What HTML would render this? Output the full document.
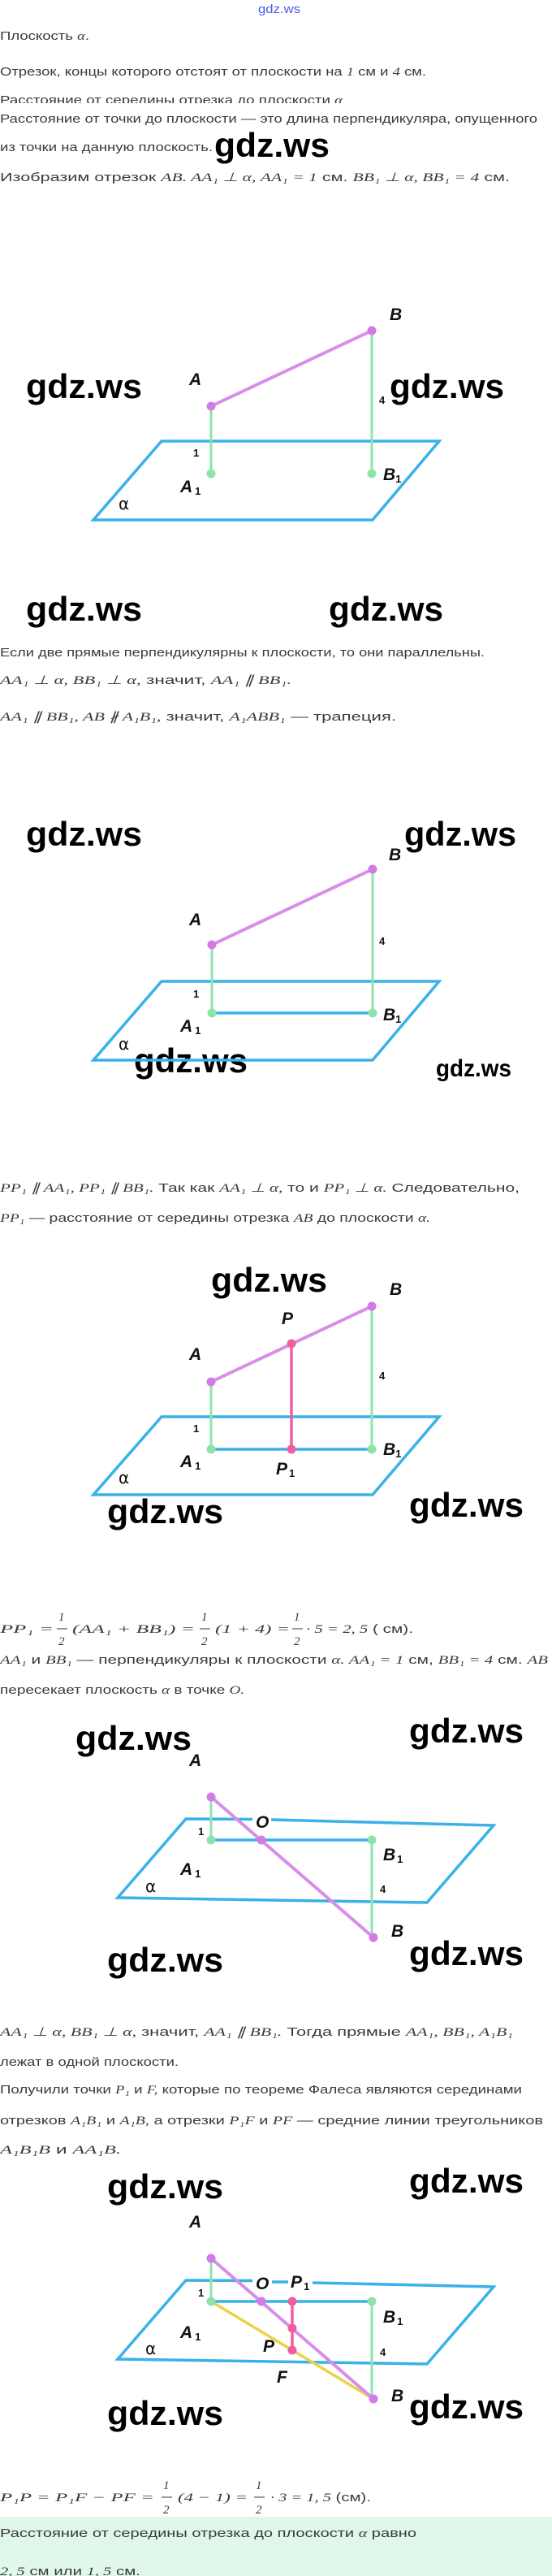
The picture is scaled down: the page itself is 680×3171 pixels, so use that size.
<!DOCTYPE html>
<html><head><meta charset="utf-8"><style>
html,body{margin:0;padding:0;background:#fff;}
svg{display:block;}
.t{font-family:"Liberation Sans",sans-serif;font-size:15px;fill:#3a3a3a;}
.m{font-family:"Liberation Serif",serif;font-style:italic;}
.w{font-family:"Liberation Sans",sans-serif;font-weight:bold;font-size:42px;fill:#000;}
.L{font-family:"Liberation Sans",sans-serif;font-weight:bold;font-style:italic;font-size:21px;fill:#111;}
.s{font-family:"Liberation Sans",sans-serif;font-weight:bold;font-size:13px;fill:#111;}
.al{font-family:"DejaVu Sans",sans-serif;font-size:20px;fill:#111;}
.pl{stroke:#38b2e8;stroke-width:3.5;fill:none;stroke-linejoin:miter;}
.g{stroke:#8fe3ae;stroke-width:3;}
.v{stroke:#d98de8;stroke-width:4;}
.pk{stroke:#f0609f;stroke-width:3.5;}
.y{stroke:#ecd24a;stroke-width:3.5;}
</style></head><body>
<svg width="680" height="3171" viewBox="0 0 680 3171" xmlns="http://www.w3.org/2000/svg">
<rect x="0" y="3098" width="680" height="73" fill="#e0f8ea"/>
<text x="318" y="16" font-family="Liberation Sans,sans-serif" font-size="15" fill="#4a5ae0" textLength="52" lengthAdjust="spacingAndGlyphs">gdz.ws</text>

<g class="t">
<text x="0" y="49" textLength="110" lengthAdjust="spacingAndGlyphs">Плоскость <tspan class="m">α</tspan>.</text>
<text x="0" y="93" textLength="525" lengthAdjust="spacingAndGlyphs">Отрезок, концы которого отстоят от плоскости на <tspan class="m">1</tspan> см и <tspan class="m">4</tspan> см.</text>
<svg x="0" y="112" width="680" height="15"><text x="0" y="16" class="t" textLength="422" lengthAdjust="spacingAndGlyphs">Расстояние от середины отрезка до плоскости <tspan class="m">α</tspan></text></svg>
<text x="0" y="151" textLength="662" lengthAdjust="spacingAndGlyphs">Расстояние от точки до плоскости — это длина перпендикуляра, опущенного</text>
<text x="0" y="186" textLength="262" lengthAdjust="spacingAndGlyphs">из точки на данную плоскость.</text>
<text x="0" y="223" textLength="628" lengthAdjust="spacingAndGlyphs">Изобразим отрезок <tspan class="m">AB. AA₁ ⊥ α, AA₁ = 1</tspan> см. <tspan class="m">BB₁ ⊥ α, BB₁ = 4</tspan> см.</text>

<text x="0" y="808" textLength="597" lengthAdjust="spacingAndGlyphs">Если две прямые перпендикулярны к плоскости, то они параллельны.</text>
<text x="0" y="842" textLength="359" lengthAdjust="spacingAndGlyphs"><tspan class="m">AA₁ ⊥ α, BB₁ ⊥ α,</tspan> значит, <tspan class="m">AA₁ ∥ BB₁.</tspan></text>
<text x="0" y="887" textLength="488" lengthAdjust="spacingAndGlyphs"><tspan class="m">AA₁ ∥ BB₁, AB ∦ A₁B₁,</tspan> значит, <tspan class="m">A₁ABB₁</tspan> — трапеция.</text>

<text x="0" y="1467" textLength="640" lengthAdjust="spacingAndGlyphs"><tspan class="m">PP₁ ∥ AA₁, PP₁ ∥ BB₁.</tspan> Так как <tspan class="m">AA₁ ⊥ α,</tspan> то и <tspan class="m">PP₁ ⊥ α.</tspan> Следовательно,</text>
<text x="0" y="1504" textLength="530" lengthAdjust="spacingAndGlyphs"><tspan class="m">PP₁</tspan> — расстояние от середины отрезка <tspan class="m">AB</tspan> до плоскости <tspan class="m">α.</tspan></text>

<text x="0" y="2010" class="t m" textLength="66" lengthAdjust="spacingAndGlyphs">PP₁ =</text>
<text x="72" y="1995" class="t m">1</text><line x1="70" y1="2005" x2="83" y2="2005" stroke="#3a3a3a" stroke-width="1"/><text x="72" y="2025" class="t m">2</text>
<text x="89" y="2010" class="t m" textLength="151" lengthAdjust="spacingAndGlyphs">(AA₁ + BB₁) =</text>
<text x="248" y="1995" class="t m">1</text><line x1="246" y1="2005" x2="259" y2="2005" stroke="#3a3a3a" stroke-width="1"/><text x="248" y="2025" class="t m">2</text>
<text x="265" y="2010" class="t m" textLength="92" lengthAdjust="spacingAndGlyphs">(1 + 4) =</text>
<text x="362" y="1995" class="t m">1</text><line x1="360" y1="2005" x2="373" y2="2005" stroke="#3a3a3a" stroke-width="1"/><text x="362" y="2025" class="t m">2</text>
<text x="377" y="2010" textLength="132" lengthAdjust="spacingAndGlyphs"><tspan class="m">· 5 = 2, 5</tspan> ( см).</text>
<text x="0" y="2048" textLength="675" lengthAdjust="spacingAndGlyphs"><tspan class="m">AA₁</tspan> и <tspan class="m">BB₁</tspan> — перпендикуляры к плоскости <tspan class="m">α. AA₁ = 1</tspan> см, <tspan class="m">BB₁ = 4</tspan> см. <tspan class="m">AB</tspan></text>
<text x="0" y="2085" textLength="301" lengthAdjust="spacingAndGlyphs">пересекает плоскость <tspan class="m">α</tspan> в точке <tspan class="m">O.</tspan></text>

<text x="0" y="2506" textLength="632" lengthAdjust="spacingAndGlyphs"><tspan class="m">AA₁ ⊥ α, BB₁ ⊥ α,</tspan> значит, <tspan class="m">AA₁ ∥ BB₁.</tspan> Тогда прямые <tspan class="m">AA₁, BB₁, A₁B₁</tspan></text>
<text x="0" y="2543" textLength="220" lengthAdjust="spacingAndGlyphs">лежат в одной плоскости.</text>
<text x="0" y="2577" textLength="643" lengthAdjust="spacingAndGlyphs">Получили точки <tspan class="m">P₁</tspan> и <tspan class="m">F,</tspan> которые по теореме Фалеса являются серединами</text>
<text x="0" y="2615" textLength="669" lengthAdjust="spacingAndGlyphs">отрезков <tspan class="m">A₁B₁</tspan> и <tspan class="m">A₁B,</tspan> а отрезки <tspan class="m">P₁F</tspan> и <tspan class="m">PF</tspan> — средние линии треугольников</text>
<text x="0" y="2651" textLength="149" lengthAdjust="spacingAndGlyphs"><tspan class="m">A₁B₁B</tspan> и <tspan class="m">AA₁B.</tspan></text>

<text x="0" y="3079" class="t m" textLength="190" lengthAdjust="spacingAndGlyphs">P₁P = P₁F − PF =</text>
<text x="201" y="3064" class="t m">1</text><line x1="199" y1="3074" x2="212" y2="3074" stroke="#3a3a3a" stroke-width="1"/><text x="201" y="3094" class="t m">2</text>
<text x="219" y="3079" class="t m" textLength="86" lengthAdjust="spacingAndGlyphs">(4 − 1) =</text>
<text x="315" y="3064" class="t m">1</text><line x1="313" y1="3074" x2="326" y2="3074" stroke="#3a3a3a" stroke-width="1"/><text x="315" y="3094" class="t m">2</text>
<text x="333" y="3079" textLength="124" lengthAdjust="spacingAndGlyphs"><tspan class="m">· 3 = 1, 5</tspan> (см).</text>
<text x="0" y="3123" textLength="513" lengthAdjust="spacingAndGlyphs">Расстояние от середины отрезка до плоскости <tspan class="m">α</tspan> равно</text>
<text x="0" y="3170" textLength="173" lengthAdjust="spacingAndGlyphs"><tspan class="m">2, 5</tspan> см или <tspan class="m">1, 5</tspan> см.</text>
</g>

<!-- watermarks -->
<g class="w">
<text x="264" y="193" textLength="142" lengthAdjust="spacingAndGlyphs">gdz.ws</text>
<text x="32" y="490" textLength="143" lengthAdjust="spacingAndGlyphs">gdz.ws</text>
<text x="480" y="490" textLength="141" lengthAdjust="spacingAndGlyphs">gdz.ws</text>
<text x="32" y="764" textLength="143" lengthAdjust="spacingAndGlyphs">gdz.ws</text>
<text x="405" y="764" textLength="141" lengthAdjust="spacingAndGlyphs">gdz.ws</text>
<text x="32" y="1041" textLength="143" lengthAdjust="spacingAndGlyphs">gdz.ws</text>
<text x="498" y="1041" textLength="138" lengthAdjust="spacingAndGlyphs">gdz.ws</text>
<text x="165" y="1320" textLength="140" lengthAdjust="spacingAndGlyphs">gdz.ws</text>
<text x="537" y="1325" font-size="30" textLength="93" lengthAdjust="spacingAndGlyphs">gdz.ws</text>
<text x="260" y="1590" textLength="143" lengthAdjust="spacingAndGlyphs">gdz.ws</text>
<text x="132" y="1875" textLength="143" lengthAdjust="spacingAndGlyphs">gdz.ws</text>
<text x="504" y="1867" textLength="141" lengthAdjust="spacingAndGlyphs">gdz.ws</text>
<text x="93" y="2154" textLength="143" lengthAdjust="spacingAndGlyphs">gdz.ws</text>
<text x="504" y="2145" textLength="141" lengthAdjust="spacingAndGlyphs">gdz.ws</text>
<text x="132" y="2427" textLength="143" lengthAdjust="spacingAndGlyphs">gdz.ws</text>
<text x="504" y="2419" textLength="141" lengthAdjust="spacingAndGlyphs">gdz.ws</text>
<text x="132" y="2706" textLength="143" lengthAdjust="spacingAndGlyphs">gdz.ws</text>
<text x="504" y="2699" textLength="141" lengthAdjust="spacingAndGlyphs">gdz.ws</text>
<text x="132" y="2985" textLength="143" lengthAdjust="spacingAndGlyphs">gdz.ws</text>
<text x="504" y="2977" textLength="141" lengthAdjust="spacingAndGlyphs">gdz.ws</text>
</g>

<!-- Figure 1 -->
<polygon class="pl" points="199,543 541,543 459,640 115,640"/>
<line class="g" x1="260" y1="500" x2="260" y2="583"/>
<line class="g" x1="458" y1="407" x2="458" y2="583"/>
<line class="v" x1="260" y1="500" x2="458" y2="407"/>
<circle cx="260" cy="500" r="5.5" fill="#d47ae6"/><circle cx="458" cy="407" r="5.5" fill="#d47ae6"/>
<circle cx="260" cy="583" r="5.5" fill="#8ee3aa"/><circle cx="458" cy="583" r="5.5" fill="#8ee3aa"/>
<text class="L" x="233" y="474">A</text><text class="L" x="480" y="394">B</text>
<text class="s" x="238" y="562">1</text><text class="s" x="467" y="497">4</text>
<text class="L" x="222" y="606">A<tspan font-size="13" font-style="normal" dx="3" dy="3">1</tspan></text>
<text class="L" x="472" y="591">B<tspan font-size="13" font-style="normal" dy="3">1</tspan></text>
<text class="al" x="146" y="627">α</text>

<!-- Figure 2 -->
<polygon class="pl" points="199,1208 541,1208 459,1305 115,1305"/>
<line class="pl" x1="260" y1="1247" x2="459" y2="1247"/>
<line class="g" x1="261" y1="1163" x2="261" y2="1247"/>
<line class="g" x1="459" y1="1070" x2="459" y2="1247"/>
<line class="v" x1="261" y1="1163" x2="459" y2="1070"/>
<circle cx="261" cy="1163" r="5.5" fill="#d47ae6"/><circle cx="459" cy="1070" r="5.5" fill="#d47ae6"/>
<circle cx="261" cy="1247" r="5.5" fill="#8ee3aa"/><circle cx="459" cy="1247" r="5.5" fill="#8ee3aa"/>
<text class="L" x="233" y="1139">A</text><text class="L" x="479" y="1059">B</text>
<text class="s" x="238" y="1228">1</text><text class="s" x="467" y="1163">4</text>
<text class="L" x="222" y="1270">A<tspan font-size="13" font-style="normal" dx="3" dy="3">1</tspan></text>
<text class="L" x="472" y="1256">B<tspan font-size="13" font-style="normal" dy="3">1</tspan></text>
<text class="al" x="146" y="1292">α</text>

<!-- Figure 3 -->
<polygon class="pl" points="199,1744 541,1744 459,1840 115,1840"/>
<line class="pl" x1="260" y1="1784" x2="458" y2="1784"/>
<line class="g" x1="260" y1="1701" x2="260" y2="1784"/>
<line class="g" x1="458" y1="1608" x2="458" y2="1784"/>
<line class="pk" x1="359" y1="1654" x2="359" y2="1784"/>
<line class="v" x1="260" y1="1701" x2="458" y2="1608"/>
<circle cx="260" cy="1701" r="5.5" fill="#d47ae6"/><circle cx="458" cy="1608" r="5.5" fill="#d47ae6"/>
<circle cx="359" cy="1654" r="5.5" fill="#f0609f"/><circle cx="359" cy="1784" r="5.5" fill="#f0609f"/>
<circle cx="260" cy="1784" r="5.5" fill="#8ee3aa"/><circle cx="458" cy="1784" r="5.5" fill="#8ee3aa"/>
<text class="L" x="233" y="1674">A</text><text class="L" x="480" y="1594">B</text>
<text class="L" x="347" y="1630">P</text>
<text class="s" x="238" y="1763">1</text><text class="s" x="467" y="1698">4</text>
<text class="L" x="222" y="1806">A<tspan font-size="13" font-style="normal" dx="3" dy="3">1</tspan></text>
<text class="L" x="472" y="1791">B<tspan font-size="13" font-style="normal" dy="3">1</tspan></text>
<text class="L" x="340" y="1815">P<tspan font-size="13" font-style="normal" dx="2" dy="3">1</tspan></text>
<text class="al" x="146" y="1826">α</text>

<!-- Figure 4 -->
<polyline class="pl" points="311,2239.5 229,2239 145,2336 526,2342 608,2247 334,2240"/>
<line class="pl" x1="260" y1="2265" x2="458" y2="2265"/>
<line class="g" x1="260" y1="2212" x2="260" y2="2265"/>
<line class="g" x1="458" y1="2265" x2="458" y2="2385"/>
<line class="v" x1="260" y1="2212" x2="460" y2="2385"/>
<circle cx="260" cy="2212" r="5.5" fill="#d47ae6"/><circle cx="460" cy="2385" r="5.5" fill="#d47ae6"/>
<circle cx="322" cy="2265" r="5.5" fill="#d47ae6"/>
<circle cx="260" cy="2265" r="5.5" fill="#8ee3aa"/><circle cx="458" cy="2265" r="5.5" fill="#8ee3aa"/>
<text class="L" x="233" y="2174">A</text><text class="L" x="482" y="2384">B</text>
<text class="L" x="315" y="2250">O</text>
<text class="s" x="244" y="2259">1</text><text class="s" x="468" y="2330">4</text>
<text class="L" x="222" y="2308">A<tspan font-size="13" font-style="normal" dx="3" dy="3">1</tspan></text>
<text class="L" x="472" y="2290">B<tspan font-size="13" font-style="normal" dx="2" dy="3">1</tspan></text>
<text class="al" x="179" y="2329">α</text>

<!-- Figure 5 -->
<polyline class="pl" points="311,2807.5 229,2807 145,2904 526,2910 608,2815 385,2810"/>
<line class="pl" x1="335" y1="2809" x2="355" y2="2809"/>
<line class="pl" x1="260" y1="2833" x2="458" y2="2833"/>
<line class="g" x1="260" y1="2780" x2="260" y2="2833"/>
<line class="g" x1="458" y1="2833" x2="458" y2="2953"/>
<line class="y" x1="260" y1="2833" x2="460" y2="2953"/>
<line class="pk" x1="360" y1="2833" x2="360" y2="2893"/>
<line class="v" x1="260" y1="2780" x2="460" y2="2953"/>
<circle cx="260" cy="2780" r="5.5" fill="#d47ae6"/><circle cx="460" cy="2953" r="5.5" fill="#d47ae6"/>
<circle cx="322" cy="2833" r="5.5" fill="#d47ae6"/>
<circle cx="360" cy="2833" r="5.5" fill="#f0609f"/><circle cx="360" cy="2866" r="5.5" fill="#f0609f"/><circle cx="360" cy="2893" r="5.5" fill="#f0609f"/>
<circle cx="260" cy="2833" r="5.5" fill="#8ee3aa"/><circle cx="458" cy="2833" r="5.5" fill="#8ee3aa"/>
<text class="L" x="233" y="2742">A</text><text class="L" x="482" y="2956">B</text>
<text class="L" x="315" y="2818">O</text>
<text class="L" x="358" y="2816">P<tspan font-size="13" font-style="normal" dx="2" dy="3">1</tspan></text>
<text class="s" x="244" y="2827">1</text><text class="s" x="468" y="2900">4</text>
<text class="L" x="222" y="2878">A<tspan font-size="13" font-style="normal" dx="3" dy="3">1</tspan></text>
<text class="L" x="472" y="2859">B<tspan font-size="13" font-style="normal" dx="2" dy="3">1</tspan></text>
<text class="L" x="324" y="2895">P</text>
<text class="L" x="341" y="2933">F</text>
<text class="al" x="179" y="2898">α</text>
</svg>
</body></html>
